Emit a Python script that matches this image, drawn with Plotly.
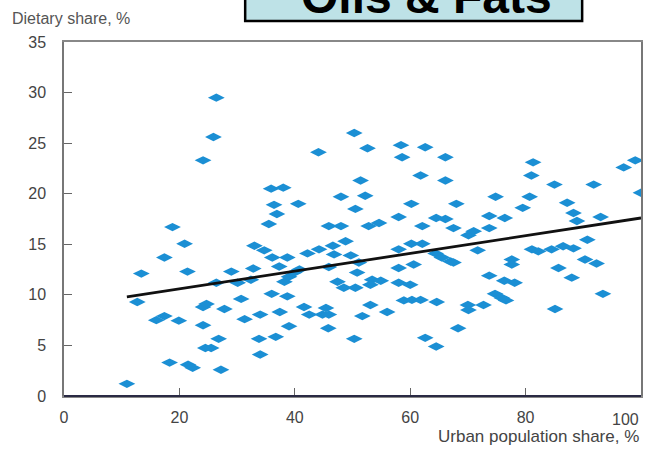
import plotly.graph_objects as go

urban_share = [
    10.9, 12.7, 13.4, 16.0, 17.4, 17.4, 18.8, 18.3, 19.9, 20.9, 21.4, 21.5, 22.3,
    24.1, 24.1, 24.7, 24.1, 24.5, 25.5, 25.9, 26.4, 26.4, 26.8, 27.2, 27.8, 29.0,
    30.1, 30.7, 31.3, 33.0, 32.8, 32.4, 34.7, 34.0, 33.8, 34.0, 35.5, 35.9, 36.4,
    36.9, 36.1, 36.0, 36.7, 37.3, 37.4, 38.0, 38.7, 38.7, 38.2, 39.0, 39.9, 40.8,
    39.0, 40.6, 41.6, 42.2, 42.5, 44.1, 44.2, 44.8, 45.4, 45.9, 45.9, 45.9, 45.8,
    46.6, 46.8, 47.4, 48.0, 48.0, 48.5, 48.8, 49.7, 50.3, 50.5, 50.5, 50.3, 50.8,
    51.1, 51.4, 51.7, 52.2, 52.6, 52.8, 53.1, 53.4, 53.1, 54.6, 54.9, 56.0, 58.0,
    58.4, 58.6, 58.0, 58.0, 58.0, 58.9, 60.0, 60.2, 60.2, 60.3, 60.6, 61.8, 61.8,
    62.1, 62.1, 62.6, 62.6, 64.5, 64.5, 64.4, 64.6, 65.5, 66.1, 66.1, 66.1, 67.0,
    67.5, 67.5, 68.0, 68.3, 70.0, 70.1, 70.1, 71.0, 71.7, 72.7, 73.7, 73.7, 73.7,
    74.7, 74.8, 75.9, 76.3, 76.4, 76.6, 77.6, 77.6, 78.1, 79.5, 80.7, 81.0, 81.3,
    81.1, 82.2, 84.5, 85.0, 85.1, 85.7, 86.5, 87.2, 88.0, 88.3, 88.3, 88.9, 90.3,
    90.7, 91.8, 92.3, 93.0, 93.4, 97.0, 99.0, 100.0,
]
dietary_share = [
    1.2, 9.3, 12.1, 7.5, 7.9, 13.7, 16.7, 3.3, 7.45, 15.05, 12.3, 3.1, 2.8,
    23.3, 8.8, 9.1, 7.0, 4.75, 4.75, 25.6, 29.5, 11.2, 5.65, 2.6, 8.6, 12.3,
    11.2, 9.6, 7.6, 14.85, 12.6, 11.5, 14.4, 8.05, 5.65, 4.1, 17.0, 20.5, 18.9,
    18.0, 13.7, 10.1, 5.85, 12.8, 8.3, 20.6, 13.7, 9.85, 11.3, 11.8, 12.2, 12.5,
    6.9, 19.0, 8.8, 14.1, 8.05, 24.1, 14.5, 8.05, 8.7, 8.05, 16.8, 12.75, 6.7,
    14.85, 14.0, 11.3, 16.8, 19.7, 10.7, 15.3, 13.9, 26.0, 18.5, 10.7, 5.65, 12.2,
    13.2, 21.3, 7.9, 19.8, 24.5, 16.8, 9.0, 11.5, 11.0, 17.1, 11.4, 8.3, 17.7,
    24.8, 23.6, 14.5, 12.65, 11.2, 9.45, 11.0, 19.0, 15.05, 9.5, 13.0, 21.8, 9.5,
    16.8, 15.05, 24.6, 5.75, 4.9, 17.6, 14.1, 9.3, 13.7, 23.6, 21.3, 17.5, 13.3,
    13.2, 16.6, 19.0, 6.7, 9.0, 8.5, 15.9, 16.3, 14.4, 9.0, 17.8, 16.6, 11.9,
    10.1, 19.7, 9.7, 11.4, 17.6, 9.45, 13.5, 13.0, 11.2, 18.6, 19.7, 21.8, 23.1,
    14.5, 14.3, 14.5, 20.9, 8.6, 12.65, 14.8, 19.1, 11.7, 18.1, 14.6, 17.3, 13.5,
    15.45, 20.9, 13.1, 17.7, 10.1, 22.6, 23.3, 20.1,
]

trend_x = [10.9, 100]
trend_y = [9.8, 17.6]

x_ticks = [0, 20, 40, 60, 80, 100]
x_tick_labels = ["0", "20", "40", "60", "80", ""]
last_x_label = "100"
y_ticks = [0, 5, 10, 15, 20, 25, 30, 35]

title_text = "Oils & Fats"
y_title = "Dietary share, %"
x_title = "Urban population share, %"

FONT = "Liberation Sans, Arial, sans-serif"

fig = go.Figure()
fig.add_trace(go.Scatter(
    x=urban_share, y=dietary_share, mode="markers",
    marker=dict(symbol="diamond-wide", size=12, color="#1B8FD4", line=dict(width=0)),
    showlegend=False, hoverinfo="x+y",
))
fig.add_trace(go.Scatter(
    x=trend_x, y=trend_y, mode="lines",
    line=dict(color="#111111", width=2.8),
    showlegend=False,
))

fig.update_layout(
    width=647, height=451,
    margin=dict(l=64, r=4, t=42, b=55),
    paper_bgcolor="white", plot_bgcolor="white",
    font=dict(family=FONT, size=16, color="#444444"),
    xaxis=dict(
        range=[0, 100], tickvals=x_ticks, ticktext=x_tick_labels,
        ticks="inside", ticklen=8, tickcolor="#666666",
        showgrid=False, zeroline=False,
        showline=True, linecolor="#888888", linewidth=1.5, mirror=True,
        tickfont=dict(family=FONT, size=16, color="#444444"),
        ticklabelstandoff=6,
    ),
    yaxis=dict(
        range=[0, 35], tickvals=y_ticks, ticks="inside", ticklen=8,
        tickcolor="#666666", showgrid=False, zeroline=False,
        showline=True, linecolor="#777777", linewidth=1.5, mirror=True,
        tickfont=dict(family=FONT, size=16, color="#444444"),
        ticklabelstandoff=13,
    ),
    shapes=[
        dict(type="rect", xref="paper", yref="paper",
             x0=0.314, x1=0.898, y0=1.0592, y1=1.3,
             fillcolor="#BEE2E7", line=dict(color="black", width=2.5), layer="above"),
        dict(type="line", xref="paper", yref="paper", x0=0, x1=1, y0=0, y1=0,
             line=dict(color="#2A2A44", width=2), layer="above"),
    ],
    annotations=[
        dict(text=y_title, xref="paper", yref="paper", x=-0.093, y=1.0677,
             xanchor="left", yanchor="middle", showarrow=False,
             font=dict(family=FONT, size=16, color="#555555")),
        dict(text=x_title, xref="paper", yref="paper", x=1.0, y=-0.1144,
             xanchor="right", yanchor="middle", showarrow=False,
             font=dict(family=FONT, size=17, color="#444444")),
        dict(text=last_x_label, xref="x", yref="paper", x=x_ticks[-1], y=-0.038,
             xanchor="right", yanchor="top", showarrow=False,
             font=dict(family=FONT, size=16, color="#444444")),
        dict(text="<b>" + title_text + "</b>", xref="paper", yref="paper",
             x=0.628, y=1.128, xanchor="center", yanchor="middle", showarrow=False,
             font=dict(family=FONT, size=48, color="black")),
    ],
)

fig.write_html("out.html", config={"displayModeBar": False},
               post_script="document.body.style.margin='0';")
